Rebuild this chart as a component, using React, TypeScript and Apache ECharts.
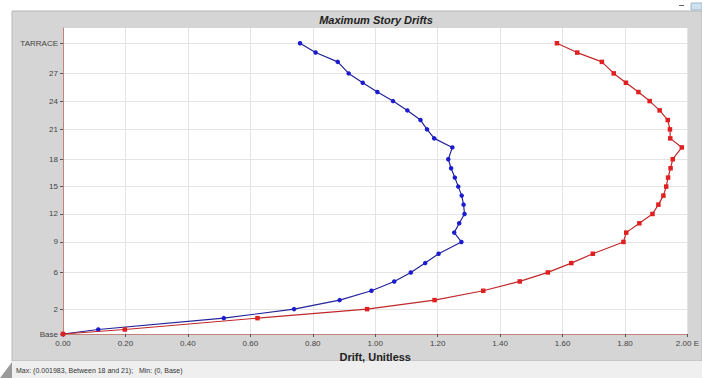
import React, { useEffect, useRef } from "react";
import * as echarts from "echarts";

// Story label positions (elevation units) and their names
const storyLabels = ["Base", "2", "6", "9", "12", "15", "18", "21", "24", "27", "TARRACE"];
const labelElev = [0, 8.0, 19.8, 29.6, 38.6, 47.4, 56.2, 65.8, 74.9, 83.8, 93.5];

// Every story level (bottom to top)
const levelElev = [
  0, 1.45, 5.1, 8.0, 10.9, 13.9, 16.9, 19.8, 22.8, 25.8, 29.6, 32.6, 35.6, 38.6, 41.6, 44.5,
  47.4, 50.3, 53.3, 56.2, 60.0, 62.9, 65.8, 68.8, 71.9, 74.9, 77.8, 80.8, 83.8, 87.5, 90.5, 93.5,
];

// Drift values (x 1e-3), bottom to top
const blueDrift = [
  0, 0.113, 0.515, 0.74, 0.886, 0.988, 1.061, 1.114, 1.16, 1.203, 1.276, 1.253, 1.269, 1.286, 1.283, 1.277,
  1.266, 1.255, 1.243, 1.234, 1.247, 1.189, 1.166, 1.145, 1.103, 1.057, 1.007, 0.96, 0.915, 0.88, 0.809, 0.759,
];
const redDrift = [
  0, 0.198, 0.623, 0.974, 1.19, 1.346, 1.463, 1.553, 1.628, 1.697, 1.795, 1.804, 1.846, 1.888, 1.907, 1.923,
  1.932, 1.938, 1.946, 1.953, 1.982, 1.945, 1.944, 1.937, 1.911, 1.879, 1.843, 1.803, 1.764, 1.726, 1.647, 1.582,
];

const titleText = "Maximum Story Drifts";
const xAxisName = "Drift, Unitless";
const footerText = "Max: (0.001983, Between 18 and 21);   Min: (0, Base)";

const FONT = "'Liberation Sans', Arial, sans-serif";

export default function App() {
  const ref = useRef<HTMLDivElement>(null);

  useEffect(() => {
    if (!ref.current) return;
    const chart = echarts.init(ref.current, undefined, { renderer: "svg" });
    const axisColor = "#c4837a";
    const option: any = {
      animation: false,
      backgroundColor: "#ffffff",
      textStyle: { fontFamily: FONT },
      graphic: [
        {
          type: "rect",
          z: -10,
          shape: { x: 12, y: 11, width: 690, height: 350 },
          style: { fill: "#d5d5d5", stroke: "#b8b8b8", lineWidth: 1 },
        },
        {
          type: "rect",
          z: -10,
          shape: { x: 12, y: 361, width: 690, height: 17 },
          style: { fill: "#efefef" },
        },
        {
          type: "polygon",
          z: -9,
          shape: { points: [[0, 378], [12, 362], [12, 378]] },
          style: { fill: "#9a9a9a" },
        },
        {
          type: "rect",
          shape: { x: 679, y: 5, width: 5, height: 1 },
          style: { fill: "#666" },
        },
        {
          type: "rect",
          shape: { x: 691, y: 3, width: 11, height: 7 },
          style: { fill: "#cfe0ee", stroke: "#9fb7cc", lineWidth: 1 },
        },
        {
          type: "text",
          x: 376,
          y: 20,
          style: {
            text: titleText,
            fontFamily: FONT,
            fontSize: 11,
            fontWeight: "bold",
            fontStyle: "italic",
            fill: "#222",
            align: "center",
            verticalAlign: "middle",
          },
        },
        {
          type: "text",
          x: 16,
          y: 370,
          style: {
            text: footerText,
            fontFamily: FONT,
            fontSize: 7,
            fill: "#333",
            align: "left",
            verticalAlign: "middle",
          },
        },
      ],
      grid: {
        left: 63,
        top: 28,
        right: 12,
        bottom: 44,
        show: true,
        backgroundColor: "#ffffff",
        borderWidth: 0,
      },
      xAxis: {
        type: "value",
        min: 0,
        max: 2,
        interval: 0.2,
        name: xAxisName,
        nameLocation: "middle",
        nameGap: 15,
        nameTextStyle: { fontFamily: FONT, fontSize: 11, fontWeight: "bold", color: "#222" },
        axisLine: { show: true, lineStyle: { color: axisColor, width: 1 } },
        axisTick: { show: true, length: 3, lineStyle: { color: "#555" } },
        axisLabel: {
          fontFamily: FONT,
          fontSize: 8,
          color: "#444",
          margin: 5,
          formatter: (v: number) => (Math.abs(v - 2) < 1e-6 ? "2.00 E" : v.toFixed(2)),
        },
        splitLine: { show: true, lineStyle: { color: "#e4e4e4", width: 1 } },
      },
      yAxis: {
        type: "value",
        min: 0,
        max: 98.4,
        axisLine: { show: true, lineStyle: { color: axisColor, width: 1 } },
        axisTick: { show: true, length: 3, lineStyle: { color: "#555" }, customValues: labelElev },
        axisLabel: {
          fontFamily: FONT,
          fontSize: 8,
          color: "#444",
          margin: 5,
          customValues: labelElev,
          formatter: (v: number) => {
            let best = 0;
            let bd = Infinity;
            labelElev.forEach((e, i) => {
              const d = Math.abs(e - v);
              if (d < bd) {
                bd = d;
                best = i;
              }
            });
            return storyLabels[best];
          },
        },
        splitLine: { show: true, lineStyle: { color: "#e4e4e4", width: 1 } },
      },
      series: [
        {
          type: "line",
          z: 3,
          data: blueDrift.map((d, i) => [d, levelElev[i]]),
          symbol: "circle",
          symbolSize: 4.5,
          itemStyle: { color: "#1b1bd0" },
          lineStyle: { color: "#23239a", width: 1.2 },
        },
        {
          type: "line",
          z: 4,
          data: redDrift.map((d, i) => [d, levelElev[i]]),
          symbol: "rect",
          symbolSize: 4.5,
          itemStyle: { color: "#e02020" },
          lineStyle: { color: "#c0282a", width: 1.2 },
        },
      ],
    };
    chart.setOption(option);
    return () => chart.dispose();
  }, []);

  return (
    <div
      ref={ref}
      style={{ position: "fixed", left: 0, top: 0, width: 702, height: 378 }}
    />
  );
}
